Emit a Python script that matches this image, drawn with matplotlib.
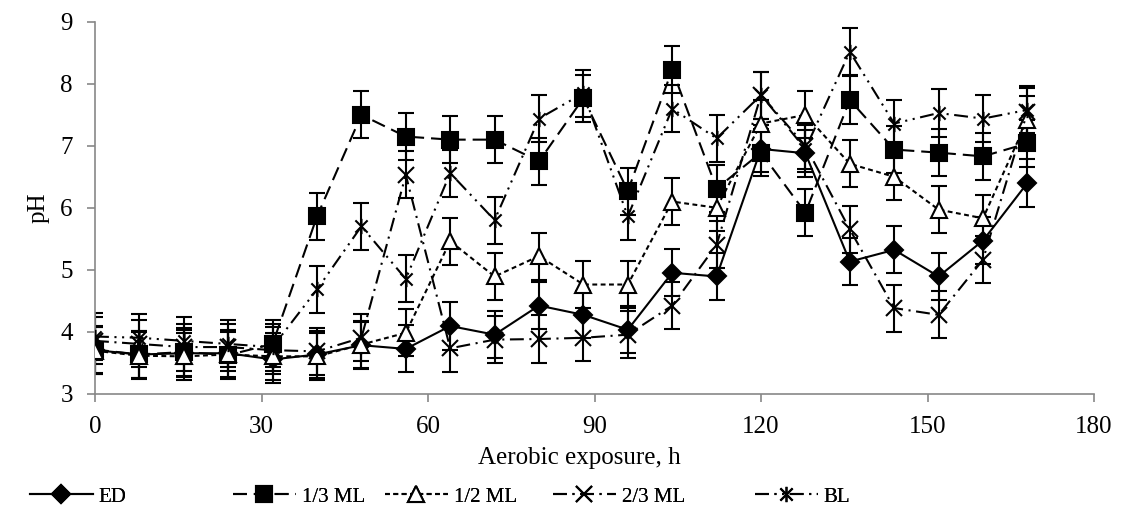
import matplotlib
matplotlib.use("Agg")
import matplotlib.pyplot as plt
from matplotlib.path import Path

# ---- data ---------------------------------------------------------------
HOURS = [0, 8, 16, 24, 32, 40, 48, 56, 64, 72, 80, 88, 96, 104, 112, 120,
         128, 136, 144, 152, 160, 168]
ED = [3.70, 3.63, 3.65, 3.65, 3.55, 3.63, 3.78, 3.72, 4.09, 3.95, 4.42, 4.27,
      4.03, 4.95, 4.89, 6.95, 6.88, 5.13, 5.32, 4.89, 5.47, 6.40]
ML_1_3 = [3.71, 3.63, 3.67, 3.62, 3.80, 5.86, 7.50, 7.15, 7.10, 7.10, 6.75,
          7.77, 6.27, 8.23, 6.31, 6.89, 5.92, 7.74, 6.94, 6.89, 6.83, 7.04]
ML_1_2 = [3.69, 3.61, 3.60, 3.63, 3.60, 3.60, 3.79, 3.98, 5.46, 4.89, 5.22,
          4.76, 4.76, 6.10, 6.00, 7.36, 7.50, 6.71, 6.50, 5.97, 5.83, 7.42]
ML_2_3 = [3.85, 3.80, 3.75, 3.75, 3.70, 3.68, 3.90, 6.53, 3.73, 3.87, 3.88,
          3.90, 3.95, 4.42, 5.40, 7.82, 7.00, 5.65, 4.38, 4.27, 5.16, 7.55]
BL = [3.92, 3.90, 3.85, 3.80, 3.75, 4.68, 5.70, 4.85, 6.56, 5.80, 7.44, 7.85,
      5.86, 7.60, 7.12, 7.82, 6.95, 8.52, 7.36, 7.53, 7.44, 7.58]
ERR = 0.38  # error bars look constant across all points

LABELS = ["ED", "1/3 ML", "1/2 ML", "2/3 ML", "BL"]
LEGEND_X = [30, 233, 385, 553, 755]  # left edge of each legend entry, px

# Excel-like asterisk: x with a vertical stroke
ASTERISK = Path([(-1, -1), (1, 1), (-1, 1), (1, -1), (0, -1.25), (0, 1.25)],
                [Path.MOVETO, Path.LINETO, Path.MOVETO, Path.LINETO,
                 Path.MOVETO, Path.LINETO])

plt.rcParams["font.family"] = ["Liberation Serif", "DejaVu Serif"]
plt.rcParams["lines.scale_dashes"] = False

W, H = 1121, 519
fig = plt.figure(figsize=(W / 100, H / 100), dpi=100)
ax = fig.add_axes([95 / W, 1 - 393.5 / H, 999 / W, 371.5 / H])

series = [
    (ED, dict(marker="D", ms=9, mfc="black", ls="-")),
    (ML_1_3, dict(marker="s", ms=12, mfc="black", ls=(0, (10, 5)))),
    (ML_1_2, dict(marker="^", ms=12, mfc="white", ls=(0, (3.5, 2.5)))),
    (ML_2_3, dict(marker="x", ms=12, mfc="none", ls=(0, (10, 4, 1.5, 4)))),
    (BL, dict(marker=ASTERISK, ms=11, mfc="none",
              ls=(0, (10, 4, 1.5, 4, 1.5, 4)))),
]

handles = []
for (vals, st), lab in zip(series, LABELS):
    ax.errorbar(HOURS, vals, yerr=ERR, fmt="none", ecolor="black",
                elinewidth=1.5, capsize=6, capthick=1.5, zorder=2)
    ln, = ax.plot(HOURS, vals, color="black", lw=1.5, ls=st["ls"],
                  marker=st["marker"], ms=st["ms"], mfc=st["mfc"],
                  mec="black", mew=1.5, label=lab, zorder=3)
    handles.append(ln)

ax.set_xlim(0, 180)
ax.set_ylim(3, 9)
ax.set_xticks([0, 30, 60, 90, 120, 150, 180])
ax.set_yticks([3, 4, 5, 6, 7, 8, 9])
for side in ("top", "right"):
    ax.spines[side].set_visible(False)
for side in ("left", "bottom"):
    ax.spines[side].set_color("#878787")
    ax.spines[side].set_linewidth(1.2)
ax.tick_params(direction="out", length=6, width=1.2, color="#878787",
               labelsize=18, pad=10)
ax.set_xlabel("Aerobic exposure, h", fontsize=18)
ax.xaxis.set_label_coords(0.485, -0.145)
ax.set_ylabel("pH", fontsize=18, labelpad=8)

# Excel spreads the legend entries unevenly, so one legend per entry
for h, lx in zip(handles, LEGEND_X):
    leg = fig.legend(handles=[h], loc="center left",
                     bbox_to_anchor=(lx / W, 1 - 497 / H), frameon=False,
                     fontsize=15, handlelength=3.0, handletextpad=0.3,
                     borderpad=0, borderaxespad=0)
    fig.add_artist(leg)

fig.savefig("out.png", dpi=100)
